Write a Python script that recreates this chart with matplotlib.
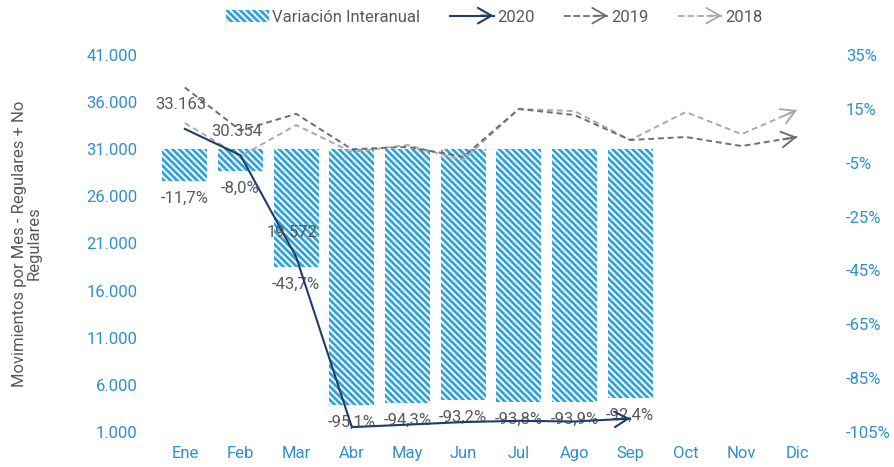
import numpy as np
import matplotlib
matplotlib.use("Agg")
import matplotlib.pyplot as plt
from matplotlib.patches import FancyArrowPatch, Patch
from matplotlib.lines import Line2D
from matplotlib.legend_handler import HandlerBase
from matplotlib.ticker import FuncFormatter

plt.rcParams["font.family"] = ["Roboto", "DejaVu Sans"]
plt.rcParams["hatch.linewidth"] = 1.4

meses = ["Ene", "Feb", "Mar", "Abr", "May", "Jun", "Jul", "Ago", "Sep", "Oct", "Nov", "Dic"]
var_interanual = [-11.7, -8.0, -43.7, -95.1, -94.3, -93.2, -93.8, -93.9, -92.4]
mov_2020 = [33163, 30354, 19572, 1519, 1781, 2054, 2187, 2112, 2430]
mov_2019 = [37560, 32990, 34760, 31000, 31250, 30200, 35270, 34630, 31980, 32300, 31340, 32300]
mov_2018 = [33780, 30250, 33570, 30700, 31450, 29850, 35270, 35050, 31980, 34950, 32600, 35160]
etiquetas_2020 = ["33.163", "30.354", "19.572"]

BLUE = "#2ea2dc"
TICK = "#2f8fcf"
GRAY_TXT = "#595959"
C2020 = "#1f3d6b"
C2019 = "#6f6f6f"
C2018 = "#a9a9a9"
HATCH = "\\" * 5


class ArrowHandler(HandlerBase):
    def create_artists(self, legend, orig, x0, y0, w, h, fontsize, trans):
        y = y0 + h / 2
        shaft = Line2D([x0, x0 + w], [y, y], color=orig.get_color(),
                       linestyle=orig.get_linestyle(), lw=orig.get_linewidth(), transform=trans)
        head = FancyArrowPatch((x0 + w * 0.7, y), (x0 + w, y), arrowstyle="->,head_length=0.7,head_width=0.4",
                               color=orig.get_color(), lw=orig.get_linewidth(), mutation_scale=14,
                               transform=trans, shrinkA=0, shrinkB=0)
        return [shaft, head]


fig = plt.figure(figsize=(8.95, 4.67), dpi=100)
ax = fig.add_axes([157 / 895, 1 - 432 / 467, (825 - 157) / 895, (432 - 55) / 467])
ax2 = ax.twinx()
ax.set_zorder(ax2.get_zorder() + 1)
ax.patch.set_visible(False)

x = np.arange(len(meses))
xb = x[:len(var_interanual)]

# bars on the percentage axis
ax2.bar(xb, var_interanual, width=0.81, color=BLUE, edgecolor="white", linewidth=0, hatch=HATCH)
for xi, v in zip(xb, var_interanual):
    ax2.annotate(f"{v:.1f}%".replace(".", ","), (xi, v), xytext=(0, -7), textcoords="offset points",
                 ha="center", va="top", fontsize=12, color=GRAY_TXT)
ax2.set_ylim(-105, 35)
ax2.set_yticks(np.arange(35, -106, -20))
ax2.yaxis.set_major_formatter(FuncFormatter(lambda v, p: f"{v:.0f}%"))

# lines on the count axis
series = [(mov_2018, C2018, (0, (3, 2)), 1.4), (mov_2019, C2019, (0, (3, 2)), 1.4), (mov_2020, C2020, "-", 1.5)]
for vals, col, ls, lw in series:
    xs = x[:len(vals)]
    ax.plot(xs, vals, color=col, linestyle=ls, lw=lw)
    x1, y1 = xs[-1], vals[-1]
    x0, y0 = xs[-2], vals[-2]
    ax.annotate("", xy=(x1, y1), xytext=(x1 - 0.25 * (x1 - x0), y1 - 0.25 * (y1 - y0)),
                arrowprops=dict(arrowstyle="->,head_length=0.7,head_width=0.4", color=col, lw=lw,
                                shrinkA=0, shrinkB=0, mutation_scale=14))

for xi, v, t in zip(x, mov_2020, etiquetas_2020):
    ax.annotate(t, (xi, v), xytext=(-3, 12), textcoords="offset points", ha="center", va="bottom",
                fontsize=12, color=GRAY_TXT)

ax.set_ylim(1000, 41000)
ax.set_yticks(np.arange(1000, 41001, 5000))
ax.yaxis.set_major_formatter(FuncFormatter(lambda v, p: f"{v:,.0f}".replace(",", ".")))
ax.set_xlim(-0.5, len(meses) - 0.5)
ax.set_xticks(x)
ax.set_xticklabels(meses)
ax.set_ylabel("Movimientos por Mes - Regulares + No\nRegulares", fontsize=12, color=GRAY_TXT,
              labelpad=32, linespacing=1.0)

for a in (ax, ax2):
    for s in a.spines.values():
        s.set_visible(False)
    a.tick_params(length=0, labelsize=12, labelcolor=TICK)
ax.tick_params(axis="x", pad=10)
ax.tick_params(axis="y", pad=14)
ax2.tick_params(axis="y", pad=15)

handles = [Patch(facecolor=BLUE, edgecolor="white", hatch=HATCH, linewidth=0),
           Line2D([], [], color=C2020, lw=1.5),
           Line2D([], [], color=C2019, lw=1.3, linestyle=(0, (3, 2))),
           Line2D([], [], color=C2018, lw=1.3, linestyle=(0, (3, 2)))]
labels = ["Variación Interanual", "2020", "2019", "2018"]
leg = fig.legend(handles, labels, loc="center", bbox_to_anchor=(494 / 895, 1 - 17 / 467), ncol=4,
                 frameon=False, fontsize=12, handlelength=2.6, handletextpad=0.2, columnspacing=1.8,
                 handler_map={Line2D: ArrowHandler()})
for t in leg.get_texts():
    t.set_color(GRAY_TXT)

fig.savefig("out.png", dpi=100)
